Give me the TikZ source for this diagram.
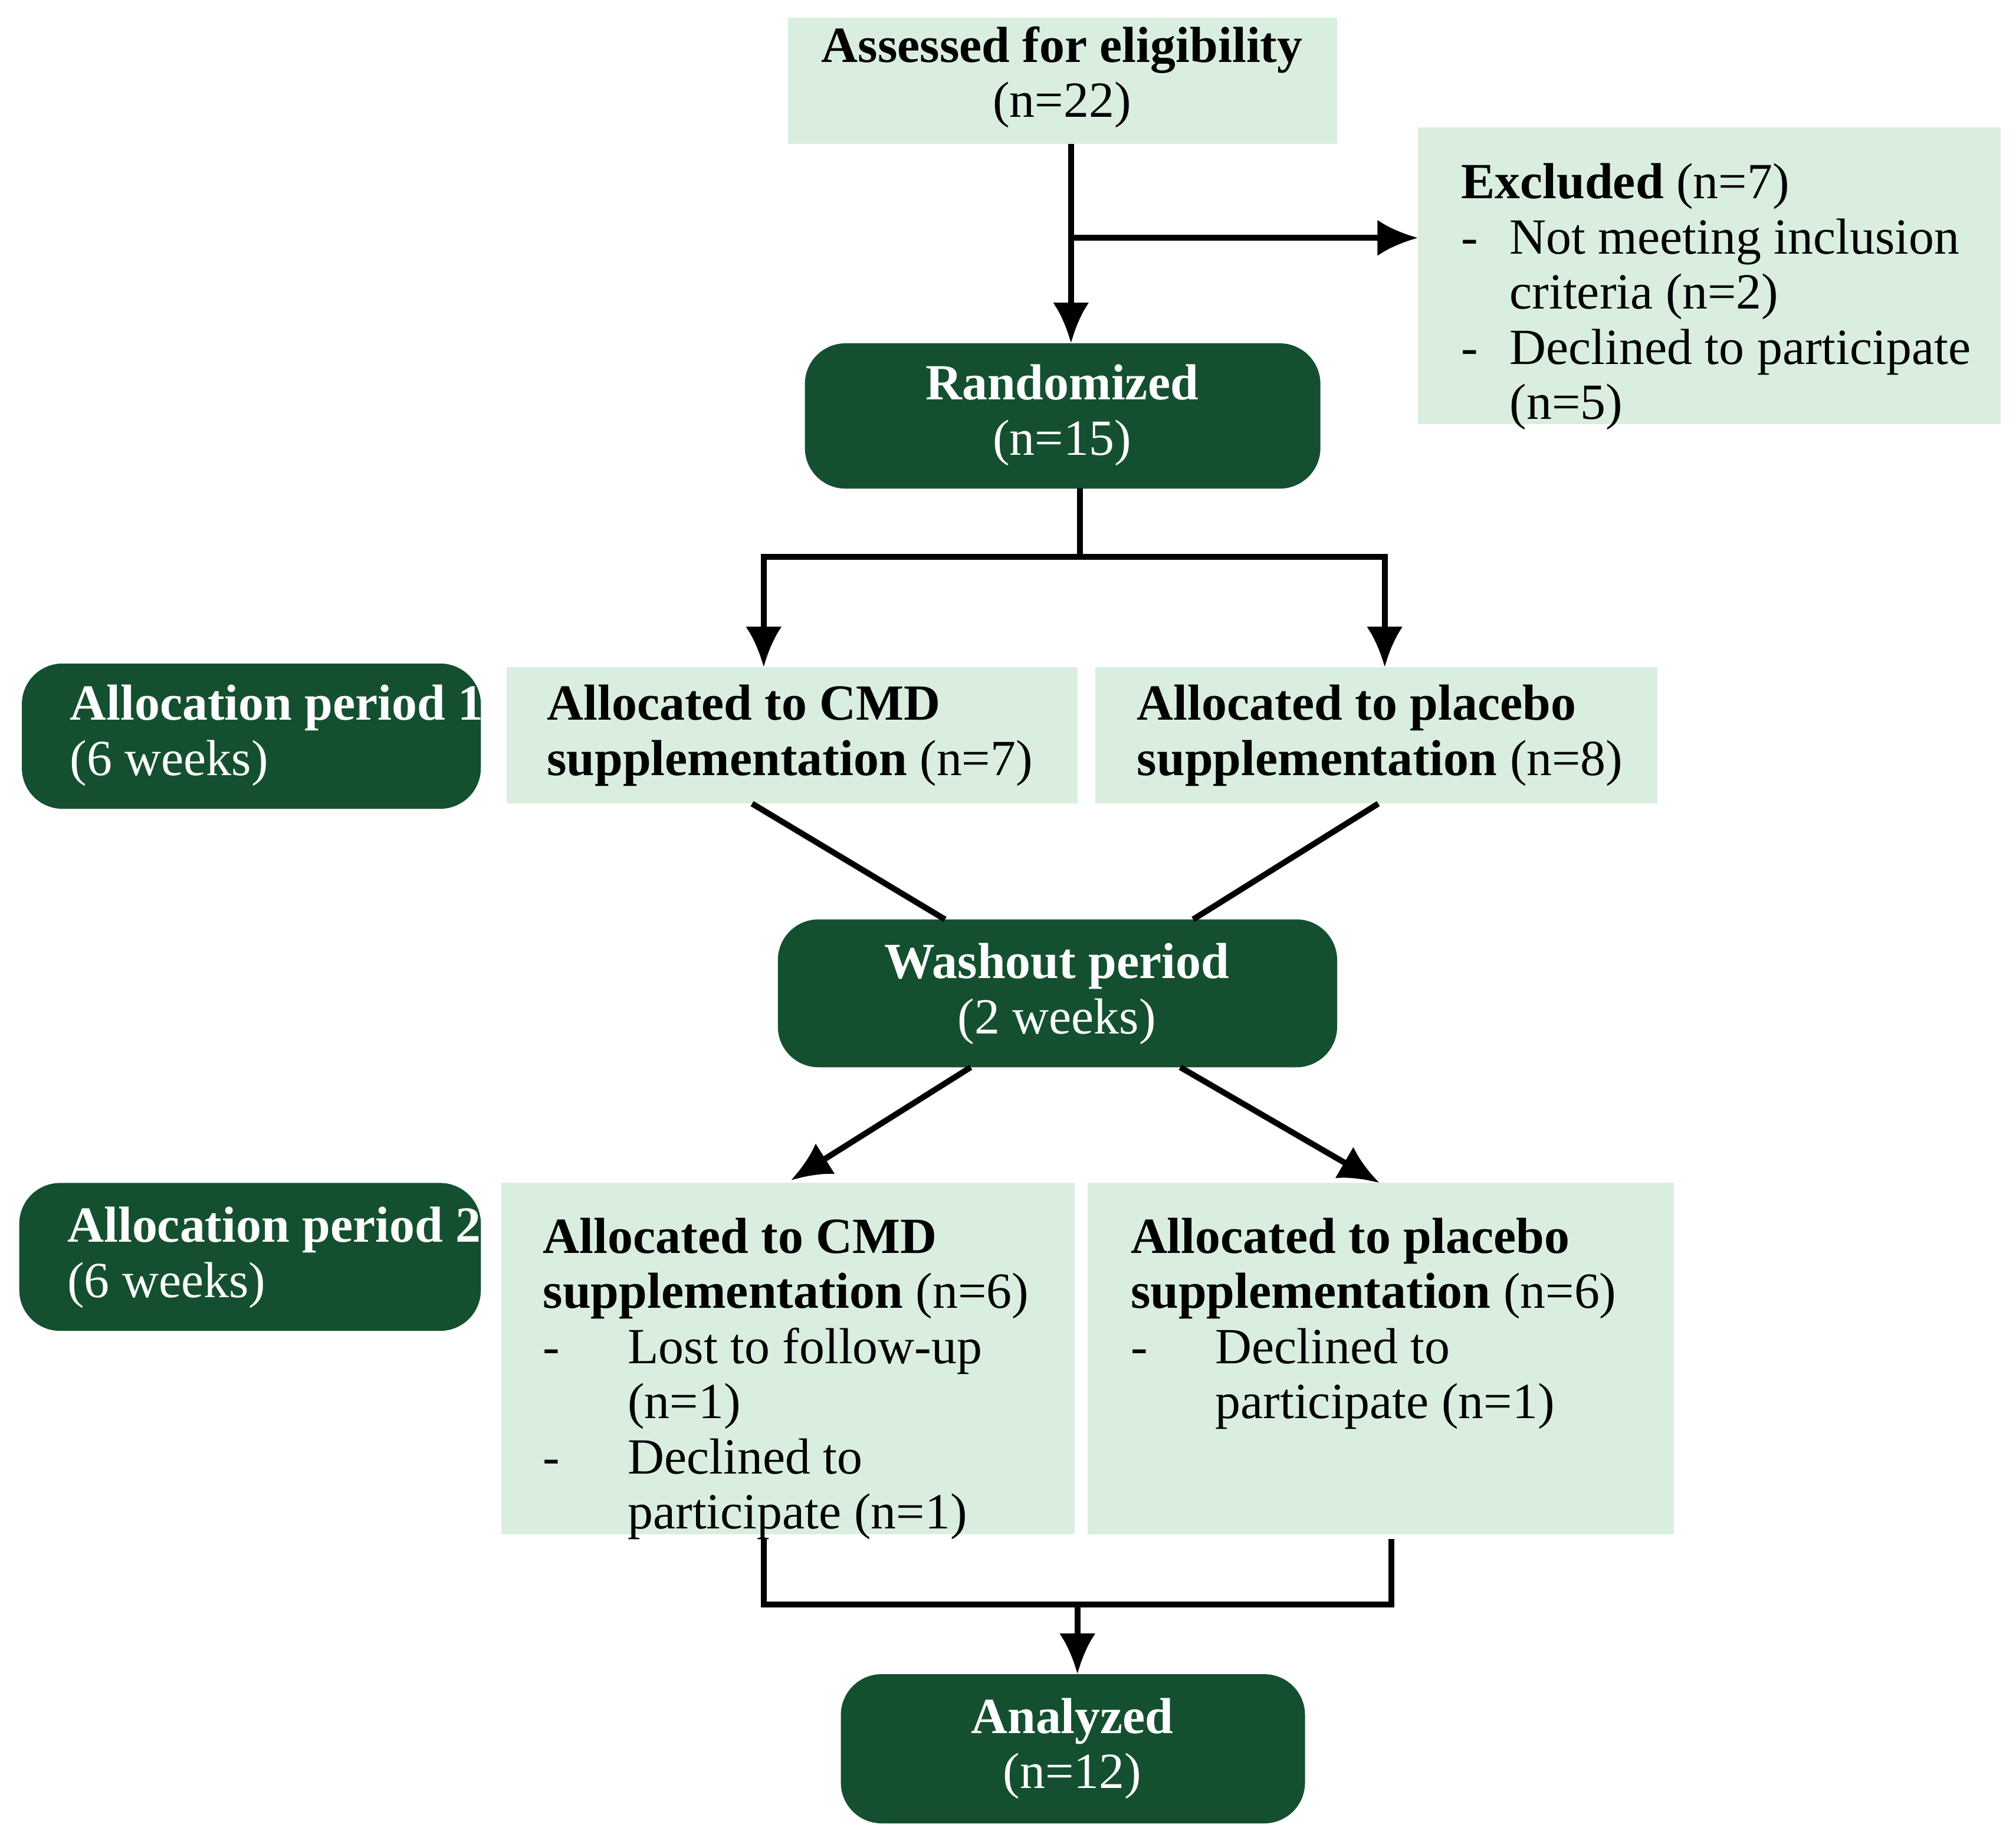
\documentclass[tikz,border=0pt]{standalone}
\usepackage{fontspec}
\setmainfont{Liberation Serif}
\usetikzlibrary{arrows.meta}
\begin{document}
\begin{tikzpicture}[x=0.01cm,y=-0.01cm,
  font=\fontsize{11.2}{12.2}\selectfont,
  ln/.style={line width=1.3pt,black},
  ar/.style={ln,-{Latex[length=9pt,width=8pt]}}]
\definecolor{lightg}{HTML}{D9EEDF}
\definecolor{darkg}{HTML}{14502F}
\useasboundingbox (0,0) rectangle (1568,1434);
% boxes
\fill[lightg] (613,14) rectangle (1040,112);
\node (ass) at (826,60) [align=center] {\textbf{Assessed for eligibility}\\(n=22)};
\fill[lightg] (1103,99) rectangle (1556,330);
\node (exc) [anchor=north west,align=left] at (1124,112) {\begin{tabular}{@{}l@{\hspace{7pt}}l@{}}\multicolumn{2}{@{}l}{\textbf{Excluded} (n=7)}\\-&Not meeting inclusion\\&criteria (n=2)\\-&Declined to participate\\&(n=5)\end{tabular}};
\coordinate (excW) at (1103,185);
\fill[darkg,rounded corners=9pt] (626,267) rectangle (1027,380);
\node (ran) at (826,323) [align=center,text=white] {\textbf{Randomized}\\(n=15)};
\fill[darkg,rounded corners=9pt] (17,516) rectangle (374,629);
\node (ap1) [anchor=west,align=left,text=white] at (42,572) {\textbf{Allocation period 1}\\(6 weeks)};
\fill[lightg] (394,519) rectangle (838,625);
\node (c1) [anchor=west,align=left] at (413,572) {\textbf{Allocated to CMD}\\\textbf{supplementation} (n=7)};
\fill[lightg] (852,519) rectangle (1289,625);
\node (p1) [anchor=west,align=left] at (872,572) {\textbf{Allocated to placebo}\\\textbf{supplementation} (n=8)};
\fill[darkg,rounded corners=9pt] (605,715) rectangle (1040,830);
\node (wash) at (822,773) [align=center,text=white] {\textbf{Washout period}\\(2 weeks)};
\fill[darkg,rounded corners=9pt] (15,920) rectangle (374,1035);
\node (ap2) [anchor=west,align=left,text=white] at (40,978) {\textbf{Allocation period 2}\\(6 weeks)};
\fill[lightg] (390,920) rectangle (836,1193);
\node (c2) [anchor=north west,align=left] at (410,932) {\begin{tabular}{@{}l@{\hspace{15pt}}l@{}}\multicolumn{2}{@{}l}{\textbf{Allocated to CMD}}\\\multicolumn{2}{@{}l}{\textbf{supplementation} (n=6)}\\-&Lost to follow-up\\&(n=1)\\-&Declined to\\&participate (n=1)\end{tabular}};
\fill[lightg] (846,920) rectangle (1302,1193);
\node (p2) [anchor=north west,align=left] at (867,932) {\begin{tabular}{@{}l@{\hspace{15pt}}l@{}}\multicolumn{2}{@{}l}{\textbf{Allocated to placebo}}\\\multicolumn{2}{@{}l}{\textbf{supplementation} (n=6)}\\-&Declined to\\&participate (n=1)\end{tabular}};
\fill[darkg,rounded corners=9pt] (654,1302) rectangle (1015,1418);
\node (ana) at (834,1360) [align=center,text=white] {\textbf{Analyzed}\\(n=12)};
% connectors
\coordinate (a1) at (833,112); \coordinate (a2) at (833,267);
\coordinate (br) at (833,185);
\draw[ar] (a1) -- (a2);
\draw[ar] (br) -- (excW);
\coordinate (r1) at (840,380); \coordinate (r2) at (840,433);
\coordinate (rl) at (594,433); \coordinate (rr) at (1077,433);
\coordinate (rlb) at (594,519); \coordinate (rrb) at (1077,519);
\draw[ln] (r1) -- (r2);
\draw[ar] (r2) -- (rl) -- (rlb);
\draw[ar] (r2) -- (rr) -- (rrb);
\coordinate (x1) at (585,625); \coordinate (x2) at (735,715);
\coordinate (x3) at (1072,625); \coordinate (x4) at (928,715);
\draw[ln] (x1) -- (x2); \draw[ln] (x3) -- (x4);
\coordinate (w1) at (755,830); \coordinate (w2) at (615,918);
\coordinate (w3) at (918,830); \coordinate (w4) at (1073,920);
\draw[ar] (w1) -- (w2); \draw[ar] (w3) -- (w4);
\coordinate (b1) at (594,1197); \coordinate (b2) at (594,1248);
\coordinate (b3) at (1082,1248); \coordinate (b4) at (1082,1197);
\coordinate (bm) at (838,1248); \coordinate (bt) at (838,1302);
\draw[ln] (b1) -- (b2) -- (b3) -- (b4);
\draw[ar] (bm) -- (bt);
\end{tikzpicture}
\end{document}
